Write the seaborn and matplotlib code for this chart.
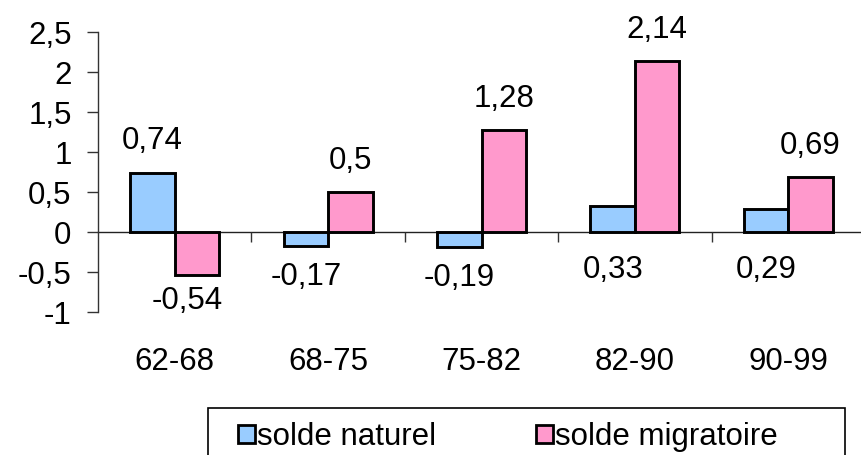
import matplotlib
matplotlib.use("Agg")
import matplotlib.pyplot as plt
from matplotlib.patches import Rectangle
import seaborn as sns
import pandas as pd

# Population change components by inter-census period (% per year)
periods = ["62-68", "68-75", "75-82", "82-90", "90-99"]
solde_naturel = [0.74, -0.17, -0.19, 0.33, 0.29]
solde_migratoire = [-0.54, 0.5, 1.28, 2.14, 0.69]
series_names = ["solde naturel", "solde migratoire"]
y_ticks = [-1, -0.5, 0, 0.5, 1, 1.5, 2, 2.5]

colors = {"solde naturel": "#99CCFF", "solde migratoire": "#FF99CC"}

df = pd.DataFrame({
    "periode": periods * 2,
    "serie": [series_names[0]] * len(periods) + [series_names[1]] * len(periods),
    "valeur": solde_naturel + solde_migratoire,
})

sns.set_style("white")
plt.rcParams["font.family"] = ["Liberation Sans", "DejaVu Sans"]
plt.rcParams["text.color"] = "black"
plt.rcParams["xtick.color"] = "black"
plt.rcParams["ytick.color"] = "black"
FS = 22.5

W, H = 861, 455
fig = plt.figure(figsize=(W / 100, H / 100), dpi=100)
ax = fig.add_axes([98 / W, 1 - 312 / H, 767 / W, 280 / H])

sns.barplot(data=df, x="periode", y="valeur", hue="serie", order=periods,
            hue_order=series_names, palette=colors, width=0.58, gap=0,
            edgecolor="black", linewidth=2.1, ax=ax, legend=False,
            saturation=1, errorbar=None)

ax.set_xlim(-0.5, len(periods) - 0.5)
ax.set_ylim(-1, 2.5)
ax.set_xlabel("")
ax.set_ylabel("")


def fr(v):
    return ("%g" % v).replace(".", ",")


ax.set_yticks(y_ticks)
ax.set_yticklabels([fr(v) for v in y_ticks], fontsize=FS, color="black")
ax.tick_params(axis="y", direction="out", length=8, width=1, color="#333333",
               pad=11, left=True)

# Category axis drawn along the zero line, with tick marks between groups
for side in ("top", "right"):
    ax.spines[side].set_visible(False)
ax.spines["left"].set_color("#333333")
ax.spines["left"].set_linewidth(1)
ax.spines["bottom"].set_position(("data", 0))
ax.spines["bottom"].set_color("#222222")
ax.spines["bottom"].set_linewidth(1)
ax.spines["bottom"].set_zorder(0.5)
ax.set_xticks([i + 0.5 for i in range(len(periods) - 1)], minor=True)
ax.set_xticks(range(len(periods)))
ax.set_xticklabels([])
ax.tick_params(axis="x", which="major", length=0)
ax.tick_params(axis="x", which="minor", direction="out", length=7, width=1,
               color="#333333", bottom=True)

sec = ax.secondary_xaxis(0)
sec.set_xticks(range(len(periods)), labels=periods, fontsize=FS, color="black")
sec.tick_params(length=0, pad=25)
sec.spines["bottom"].set_visible(False)

# Value labels
half = 0.29 / 2
for i, p in enumerate(periods):
    v = solde_naturel[i]
    x = i - half
    if v > 0.5:
        ax.annotate(fr(v), (x, v), xytext=(0, 32), textcoords="offset pixels",
                    ha="center", va="center", fontsize=FS, color="black")
    else:
        ax.annotate(fr(v), (x, min(v, 0)), xytext=(0, -38 if v > 0 else -31),
                    textcoords="offset pixels", ha="center", va="center",
                    fontsize=FS, color="black")
    v = solde_migratoire[i]
    x = i + half
    if v >= 0:
        ax.annotate(fr(v), (x, v), xytext=(0, 31), textcoords="offset pixels",
                    ha="center", va="center", fontsize=FS, color="black")
    else:
        ax.annotate(fr(v), (x, v), xytext=(-10, -26), textcoords="offset pixels",
                    ha="center", va="center", fontsize=FS, color="black")

# Legend in an open-bottom framed box
handles = [Rectangle((0, 0), 1, 1, facecolor=colors[n], edgecolor="black", linewidth=2)
           for n in series_names]
fig.legend(handles, series_names, loc="center left",
           bbox_to_anchor=(238 / W, 1 - 437 / H), ncol=2, frameon=False,
           fontsize=FS, borderpad=0, handlelength=0.53, handleheight=0.53,
           handletextpad=0.08, columnspacing=3.2, borderaxespad=0,
           labelcolor="black")
fig.patches.append(Rectangle((208 / W, -0.05), (845 - 208) / W, 1 - 408 / H + 0.05,
                             transform=fig.transFigure, fill=False,
                             edgecolor="black", linewidth=1.2))

fig.savefig("out.png", dpi=100)
